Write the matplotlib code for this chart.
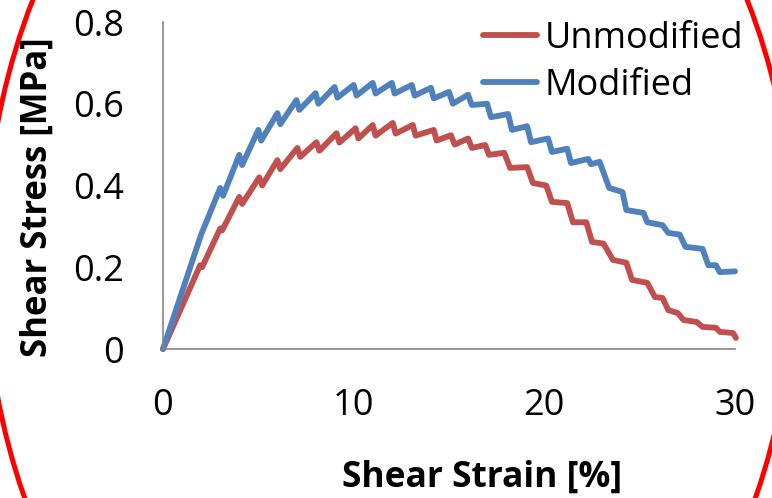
import matplotlib
matplotlib.use("Agg")
import matplotlib.pyplot as plt
from matplotlib.patches import Ellipse

plt.rcParams['font.family'] = ['Open Sans', 'DejaVu Sans']

# data
red_strain = [0, 1.0, 1.95, 2.05, 3.0, 3.1, 4.0, 4.15, 5.05, 5.2, 6.0, 6.15, 7.05, 7.2,
              8.05, 8.2, 9.1, 9.25, 10.1, 10.25, 11.0, 11.15, 12.05, 12.2, 13.1, 13.25,
              14.2, 14.35, 15.1, 15.3, 16.0, 16.2, 16.9, 17.1, 17.9, 18.2, 19.1, 19.4,
              20.1, 20.4, 21.2, 21.5, 22.2, 22.5, 23.1, 23.6, 24.3, 24.6, 25.4, 25.8,
              26.2, 26.5, 27.0, 27.3, 28.0, 28.3, 29.0, 29.2, 29.9, 30.05]
red_stress = [0, 0.105, 0.205, 0.20, 0.295, 0.29, 0.372, 0.355, 0.42, 0.40, 0.462, 0.44,
              0.492, 0.47, 0.506, 0.485, 0.528, 0.505, 0.54, 0.515, 0.548, 0.522, 0.553,
              0.527, 0.548, 0.522, 0.536, 0.51, 0.523, 0.50, 0.515, 0.492, 0.499, 0.475,
              0.48, 0.443, 0.445, 0.406, 0.40, 0.36, 0.357, 0.31, 0.31, 0.262, 0.258,
              0.218, 0.211, 0.169, 0.162, 0.127, 0.125, 0.095, 0.088, 0.071, 0.066,
              0.054, 0.052, 0.042, 0.039, 0.027]

blue_strain = [0, 1.0, 2.0, 3.0, 3.15, 4.0, 4.15, 5.0, 5.15, 6.0, 6.15, 7.0, 7.15, 8.0,
               8.15, 9.0, 9.15, 10.0, 10.15, 11.0, 11.15, 12.0, 12.15, 13.05, 13.2, 14.05,
               14.2, 15.0, 15.2, 16.0, 16.2, 17.0, 17.2, 18.1, 18.3, 19.1, 19.3, 20.2,
               20.4, 21.2, 21.4, 22.3, 22.45, 22.9, 23.4, 24.1, 24.3, 25.2, 25.4, 26.2,
               26.5, 27.1, 27.4, 28.3, 28.6, 29.0, 29.2, 30.0]
blue_stress = [0, 0.14, 0.28, 0.394, 0.375, 0.475, 0.45, 0.536, 0.51, 0.577, 0.55, 0.609,
               0.585, 0.626, 0.60, 0.641, 0.615, 0.646, 0.62, 0.651, 0.625, 0.651, 0.625,
               0.646, 0.62, 0.639, 0.613, 0.629, 0.60, 0.622, 0.597, 0.600, 0.567, 0.575,
               0.536, 0.545, 0.506, 0.515, 0.482, 0.49, 0.455, 0.465, 0.452, 0.458, 0.394,
               0.384, 0.34, 0.333, 0.31, 0.303, 0.284, 0.28, 0.25, 0.245, 0.205, 0.205,
               0.188, 0.19]

x_ticks = [0, 10, 20, 30]
y_ticks = [0, 0.2, 0.4, 0.6, 0.8]
y_tick_labels = ['0', '0.2', '0.4', '0.6', '0.8']

fig = plt.figure(figsize=(7.72, 4.98), dpi=100)
ax = fig.add_axes([163 / 772, 1 - 349 / 498, (735 - 163) / 772, (349 - 22) / 498])

ax.plot(red_strain, red_stress, color='#C0504D', lw=4.2, label='Unmodified',
        solid_joinstyle='round', solid_capstyle='round', clip_on=False)
ax.plot(blue_strain, blue_stress, color='#4F81BD', lw=4.2, label='Modified',
        solid_joinstyle='round', solid_capstyle='round', clip_on=False)

ax.set_xlim(0, 30)
ax.set_ylim(0, 0.8)
ax.set_xticks(x_ticks)
ax.set_xticklabels([str(v) for v in x_ticks])
ax.set_yticks(y_ticks)
ax.set_yticklabels(y_tick_labels)
ax.tick_params(length=0, labelsize=26, pad=28)
for s in ['top', 'right']:
    ax.spines[s].set_visible(False)
for s in ['left', 'bottom']:
    ax.spines[s].set_color('#868686')
    ax.spines[s].set_linewidth(1.2)

fig.text(482 / 772, 1 - 478 / 498, 'Shear Strain [%]', fontsize=25.5, fontweight='bold',
         ha='center', va='center')
fig.text(38 / 772, 1 - 197 / 498, 'Shear Stress [MPa]', fontsize=25, fontweight='bold',
         ha='center', va='center', rotation=90)

leg = ax.legend(loc='upper left', bbox_to_anchor=(483 / 772, 1 - 21 / 498),
                bbox_transform=fig.transFigure, frameon=False, fontsize=26,
                handlelength=1.5, handletextpad=0.2, labelspacing=0.3,
                borderpad=0, borderaxespad=0)

ell = Ellipse((390 / 772, 1 - 260 / 498), 810 / 772, 1104 / 498, transform=fig.transFigure,
              fill=False, edgecolor='#FF0000', lw=3.6, zorder=10)
fig.add_artist(ell)

fig.savefig('out.png', dpi=100)
